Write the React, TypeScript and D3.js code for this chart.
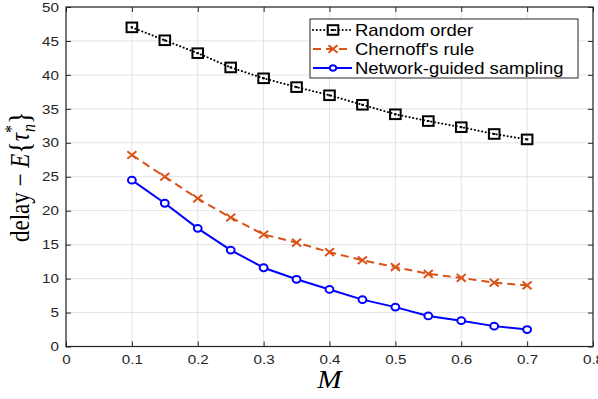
import React, { useEffect, useRef } from "react";
import * as d3 from "d3";

const mValues = [0.1, 0.15, 0.2, 0.25, 0.3, 0.35, 0.4, 0.45, 0.5, 0.55, 0.6, 0.65, 0.7];
const randomOrder = [47, 45.1, 43.2, 41.1, 39.5, 38.2, 37, 35.6, 34.2, 33.2, 32.3, 31.3, 30.5];
const chernoff = [28.2, 25, 21.8, 19, 16.5, 15.3, 13.9, 12.7, 11.7, 10.7, 10.1, 9.4, 9.0];
const networkGuided = [24.5, 21.1, 17.4, 14.2, 11.6, 9.9, 8.4, 6.9, 5.8, 4.5, 3.8, 3.0, 2.5];
const xTicks = [0, 0.1, 0.2, 0.3, 0.4, 0.5, 0.6, 0.7, 0.8];
const yTicks = [0, 5, 10, 15, 20, 25, 30, 35, 40, 45, 50];
const seriesNames = ["Random order", "Chernoff's rule", "Network-guided sampling"];

const App = () => {
  const ref = useRef<SVGSVGElement>(null);

  useEffect(() => {
    const svg = d3.select(ref.current);
    svg.selectAll("*").remove();

    const left = 66, right = 593, top = 7, bottom = 346.5;
    const sx = 1.17; // picture is stretched sideways
    const x = d3.scaleLinear().domain([0, 0.8]).range([left, right]);
    const y = d3.scaleLinear().domain([0, 50]).range([bottom, top]);
    const axisColor = "#262626";
    const font = "'Liberation Sans', Arial, sans-serif";

    svg.append("rect").attr("width", 598).attr("height", 399).attr("fill", "#fff");

    // grid
    const grid = svg.append("g").attr("stroke", "#e3e3e3").attr("stroke-width", 1);
    xTicks.forEach((t) => {
      grid.append("line").attr("x1", x(t)).attr("x2", x(t)).attr("y1", top).attr("y2", bottom);
    });
    yTicks.forEach((t) => {
      grid.append("line").attr("y1", y(t)).attr("y2", y(t)).attr("x1", left).attr("x2", right);
    });

    // axes (box with inward ticks)
    const bottomAxis = d3.axisBottom(x).tickValues(xTicks).tickSize(-5).tickPadding(8)
      .tickFormat((d) => d3.format("")(d as number));
    const leftAxis = d3.axisLeft(y).tickValues(yTicks).tickSize(-5).tickPadding(7);
    const topAxis = d3.axisTop(x).tickValues(xTicks).tickSize(-5).tickFormat(() => "");
    const rightAxis = d3.axisRight(y).tickValues(yTicks).tickSize(-5).tickFormat(() => "");

    const styleAxis = (g: any) => {
      g.selectAll("line").attr("stroke", axisColor);
      g.selectAll("text").attr("fill", axisColor).style("font-family", font).style("font-size", "13px")
        .attr("transform", `scale(${sx},1)`);
    };
    svg.append("g").attr("transform", `translate(0,${bottom})`).call(bottomAxis).call(styleAxis);
    const gl = svg.append("g").attr("transform", `translate(${left},0)`).call(leftAxis).call(styleAxis);
    gl.selectAll("text").attr("x", -7 / sx);
    svg.append("g").attr("transform", `translate(0,${top})`).call(topAxis).call(styleAxis);
    svg.append("g").attr("transform", `translate(${right},0)`).call(rightAxis).call(styleAxis);
    svg.selectAll(".domain").remove();
    svg.append("rect").attr("x", left).attr("y", top).attr("width", right - left).attr("height", bottom - top)
      .attr("fill", "none").attr("stroke", axisColor).attr("stroke-width", 1.2);

    const line = d3.line<number>().x((d, i) => x(mValues[i])).y((d) => y(d));

    // random order: dotted black with squares
    svg.append("path").datum(randomOrder).attr("d", line).attr("fill", "none")
      .attr("stroke", "#000").attr("stroke-width", 2).attr("stroke-dasharray", "0.1 3.6")
      .attr("stroke-linecap", "round");
    const sq = (g: any, cx: number, cy: number) => {
      g.append("rect").attr("x", cx - 5.3).attr("y", cy - 4.8).attr("width", 10.6).attr("height", 9.6)
        .attr("fill", "none").attr("stroke", "#000").attr("stroke-width", 2);
      g.append("rect").attr("x", cx - 1.2).attr("y", cy - 1).attr("width", 2.4).attr("height", 2).attr("fill", "#000");
    };
    randomOrder.forEach((v, i) => sq(svg, x(mValues[i]), y(v)));

    // chernoff: dashed orange with x
    const orange = "#D95319";
    svg.append("path").datum(chernoff).attr("d", line).attr("fill", "none")
      .attr("stroke", orange).attr("stroke-width", 2).attr("stroke-dasharray", "8 5");
    const cross = (g: any, cx: number, cy: number) => {
      const s = 4.5;
      g.append("path").attr("d", `M${cx - s},${cy - s * 0.85}L${cx + s},${cy + s * 0.85}M${cx - s},${cy + s * 0.85}L${cx + s},${cy - s * 0.85}`)
        .attr("stroke", orange).attr("stroke-width", 2);
    };
    chernoff.forEach((v, i) => cross(svg, x(mValues[i]), y(v)));

    // network guided: solid blue with circles
    const blue = "#0000FF";
    svg.append("path").datum(networkGuided).attr("d", line).attr("fill", "none")
      .attr("stroke", blue).attr("stroke-width", 2);
    networkGuided.forEach((v, i) => {
      svg.append("ellipse").attr("cx", x(mValues[i])).attr("cy", y(v)).attr("rx", 3.9).attr("ry", 3.4)
        .attr("fill", "#fff").attr("stroke", blue).attr("stroke-width", 2);
    });

    // legend
    const lg = svg.append("g");
    lg.append("rect").attr("x", 310).attr("y", 19).attr("width", 268).attr("height", 59)
      .attr("fill", "#fff").attr("stroke", axisColor).attr("stroke-width", 1);
    const rowsY = [30, 49, 68];
    const lx1 = 313, lx2 = 352, lmid = 333;
    lg.append("line").attr("x1", lx1).attr("x2", lx2).attr("y1", rowsY[0]).attr("y2", rowsY[0])
      .attr("stroke", "#000").attr("stroke-width", 2).attr("stroke-dasharray", "0.1 3.6").attr("stroke-linecap", "round");
    sq(lg, lmid, rowsY[0]);
    lg.append("line").attr("x1", lx1).attr("x2", lx2).attr("y1", rowsY[1]).attr("y2", rowsY[1])
      .attr("stroke", orange).attr("stroke-width", 2).attr("stroke-dasharray", "8 5");
    cross(lg, lmid, rowsY[1]);
    lg.append("line").attr("x1", lx1).attr("x2", lx2).attr("y1", rowsY[2]).attr("y2", rowsY[2])
      .attr("stroke", blue).attr("stroke-width", 2);
    lg.append("ellipse").attr("cx", lmid).attr("cy", rowsY[2]).attr("rx", 3.3).attr("ry", 2.8).attr("fill", "#fff")
      .attr("stroke", blue).attr("stroke-width", 2);
    seriesNames.forEach((n, i) => {
      lg.append("text").attr("transform", `translate(355,${rowsY[i]}) scale(${sx},1)`).attr("dy", "0.36em")
        .style("font-family", font).style("font-size", "15.8px").attr("fill", "#000").text(n);
    });

    // x label
    svg.append("text").attr("transform", `translate(${x(0.4)},388) scale(${sx},1)`).attr("text-anchor", "middle")
      .style("font-family", "'Liberation Serif', 'DejaVu Serif', serif").style("font-style", "italic")
      .style("font-size", "25px").attr("fill", "#000").text("M");

    // y label
    const yl = svg.append("text")
      .attr("transform", `translate(29,${(top + bottom) / 2}) scale(${sx},1) rotate(-90)`)
      .attr("text-anchor", "middle").style("font-family", "'Liberation Serif', 'DejaVu Serif', serif")
      .style("font-size", "23px").attr("fill", "#000");
    yl.append("tspan").text("delay \u2212 ");
    yl.append("tspan").style("font-style", "italic").text("E");
    yl.append("tspan").style("font-size", "26px").text("{");
    yl.append("tspan").style("font-style", "italic").text("\u03C4");
    yl.append("tspan").attr("dy", -9).style("font-size", "16px").text("*");
    yl.append("tspan").attr("dx", -7).attr("dy", 14).style("font-size", "16px").style("font-style", "italic").text("n");
    yl.append("tspan").attr("dy", -5).style("font-size", "26px").text("}");
  }, []);

  return <svg ref={ref} width={598} height={399} style={{ position: "absolute", left: 0, top: 0 }} />;
};

export default App;
